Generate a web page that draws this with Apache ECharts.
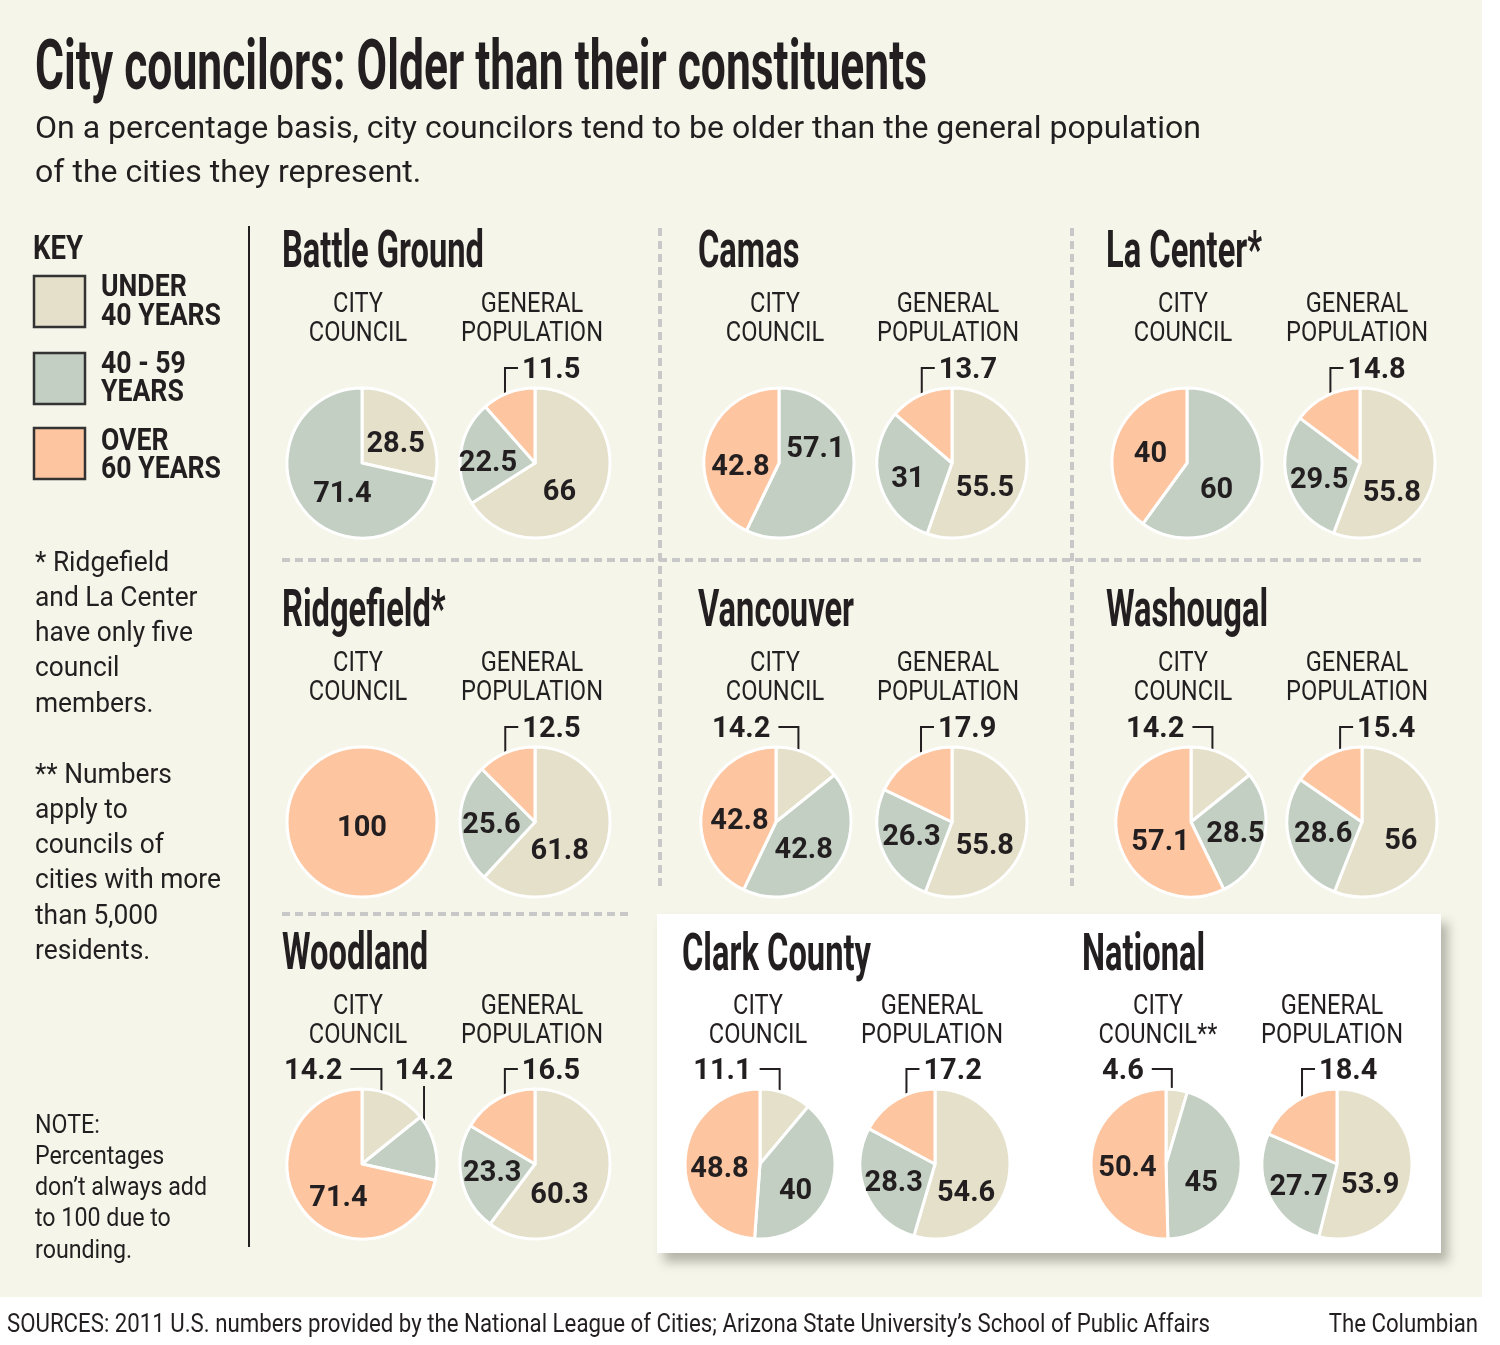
<!DOCTYPE html>
<html>
<head>
<meta charset="utf-8">
<script src="https://cdn.jsdelivr.net/npm/echarts@6/dist/echarts.min.js"></script>
<style>
html,body{margin:0;padding:0;background:#ffffff;}
#chart{width:1500px;height:1345px;}
</style>
</head>
<body>
<div id="chart"></div>
<script>
// ---------------- DATA ----------------
const titleText = 'City councilors: Older than their constituents';
const subtitleLines = ['On a percentage basis, city councilors tend to be older than the general population', 'of the cities they represent.'];
const groups = ['Battle Ground', 'Camas', 'La Center*', 'Ridgefield*', 'Vancouver', 'Washougal', 'Woodland', 'Clark County', 'National'];
const ageGroups = ['UNDER 40 YEARS', '40 - 59 YEARS', 'OVER 60 YEARS'];
const keyLines = [['UNDER', '40 YEARS'], ['40 - 59', 'YEARS'], ['OVER', '60 YEARS']];
const councilHeader = ['CITY', 'COUNCIL'];
const nationalCouncilHeader = ['CITY', 'COUNCIL**'];
const populationHeader = ['GENERAL', 'POPULATION'];
// City council shares (%)
const councilUnder40 = [28.5, 0, 0, 0, 14.2, 14.2, 14.2, 11.1, 4.6];
const council40to59 = [71.4, 57.1, 60, 0, 42.8, 28.5, 14.2, 40, 45];
const councilOver60 = [0, 42.8, 40, 100, 42.8, 57.1, 71.4, 48.8, 50.4];
// General population shares (%)
const popUnder40 = [66, 55.5, 55.8, 61.8, 55.8, 56, 60.3, 54.6, 53.9];
const pop40to59 = [22.5, 31, 29.5, 25.6, 26.3, 28.6, 23.3, 28.3, 27.7];
const popOver60 = [11.5, 13.7, 14.8, 12.5, 17.9, 15.4, 16.5, 17.2, 18.4];
const note1 = ['* Ridgefield', 'and La Center', 'have only five', 'council', 'members.'];
const note2 = ['** Numbers', 'apply to', 'councils of', 'cities with more', 'than 5,000', 'residents.'];
const note3 = ['NOTE:', 'Percentages', 'don\u2019t always add', 'to 100 due to', 'rounding.'];
const sourceText = 'SOURCES: 2011 U.S. numbers provided by the National League of Cities; Arizona State University\u2019s School of Public Affairs';
const creditText = 'The Columbian';

// ---------------- STYLE / LAYOUT ----------------
const INK = '#231f20';
const COLORS = ['#e4e0ca', '#c2cfc2', '#fdc6a1'];
const FF = 'Roboto, "DejaVu Sans", sans-serif';
const PIE_R = 75;
// per group: council centre x, population centre x, centre y
const pieLayout = [
  [362, 535, 463], [779, 952, 463], [1187, 1360, 463],
  [362, 535, 822], [776, 952, 822], [1191, 1362, 822],
  [362, 535, 1164], [760, 935, 1164], [1166, 1337, 1164]
];
const headerPos = [[282, 249], [698, 249], [1106, 249], [282, 608], [698, 608], [1106, 608], [282, 951], [682, 952], [1082, 952]];
const subHeaderPos = [
  [358, 532, 302], [775, 948, 302], [1183, 1357, 302],
  [358, 532, 661], [775, 948, 661], [1183, 1357, 661],
  [358, 532, 1004], [758, 932, 1004], [1158, 1332, 1004]
];
// external labels with leader lines: key group-kind-age (dx = shift of the vertical leader from the slice's edge point)
const extLabels = {
  '0-pop-2': {side: 'right', dx: -3.5}, '1-pop-2': {side: 'right', dx: 1}, '2-pop-2': {side: 'right', dx: 4},
  '3-pop-2': {side: 'right', dx: -1},
  '4-council-0': {side: 'left', dx: -10}, '4-pop-2': {side: 'right', dx: 9},
  '5-council-0': {side: 'left', dx: -11}, '5-pop-2': {side: 'right', dx: 13},
  '6-council-0': {side: 'left', dx: -13, rise: 51, len: 31}, '6-council-1': {side: 'up', dx: -11}, '6-pop-2': {side: 'right', dx: 7},
  '7-council-0': {side: 'left', dx: -6}, '7-pop-2': {side: 'right', dx: 10},
  '8-council-0': {side: 'left', dx: -5, rise: 32}, '8-pop-2': {side: 'right', dx: 6, rise: 42}
};
// nudges for inside labels [dx, dy]
const labelNudge = {
  '0-council-0': [2, 7], '0-council-1': [12, 6], '0-pop-0': [-11, 10], '0-pop-1': [-7, 6],
  '1-council-1': [-3, -22], '1-council-2': [1, 14], '1-pop-0': [-7, 19], '1-pop-1': [-5, 6],
  '2-council-1': [-9, 15], '2-council-2': [2, 4], '2-pop-0': [-8, 23], '2-pop-1': [-2, 6],
  '3-council-2': [0, 7], '3-pop-0': [-13, 15], '3-pop-1': [-3, 3],
  '4-council-1': [-4, 4], '4-council-2': [3, 9], '4-pop-0': [-7, 17], '4-pop-1': [-3, 1],
  '5-council-1': [5, 4], '5-council-2': [9, 12], '5-pop-0': [-1, 12], '5-pop-1': [0, 1],
  '6-council-2': [8, 9], '6-pop-0': [-14, 19], '6-pop-1': [-3, 2],
  '7-council-1': [-2, 13], '7-council-2': [0, 7], '7-pop-0': [-9, 24], '7-pop-1': [-4, 4],
  '8-council-1': [-5, 14], '8-council-2': [2, 4], '8-pop-0': [-7, 17], '8-pop-1': [-2, 6]
};

// ---------------- HELPERS ----------------
const mctx = document.createElement('canvas').getContext('2d');
function fontStr(weight, size) { return weight + ' ' + size + 'px ' + FF; }
function textW(str, weight, size) { mctx.font = fontStr(weight, size); return mctx.measureText(str).width; }
function fit(str, weight, size, target) { return target / textW(str, weight, size); }
// y = visual centre of capitals
function T(str, x, y, size, weight, sx, align, color) {
  return {
    type: 'text', x: x, y: y + size * 0.09, scaleX: sx, scaleY: 1, silent: true, z: 10,
    style: {
      text: str, font: fontStr(weight, size), fill: color || INK,
      align: align || 'left', verticalAlign: 'middle',
      textAlign: align || 'left', textVerticalAlign: 'middle'
    }
  };
}

// ---------------- GRAPHICS ----------------
const els = [];
els.push({type: 'rect', z: 0, silent: true, shape: {x: 0, y: 0, width: 1482, height: 1297}, style: {fill: '#f6f5ea'}});
els.push({type: 'rect', z: 1, silent: true, shape: {x: 657, y: 914, width: 784, height: 339},
  style: {fill: '#ffffff', shadowBlur: 10, shadowOffsetX: 7, shadowOffsetY: 9, shadowColor: 'rgba(60,60,50,0.35)'}});
// dashed separators
const dash = {stroke: '#c8c8c8', lineWidth: 4, lineDash: [8, 5]};
els.push({type: 'line', z: 1, silent: true, shape: {x1: 282, y1: 560, x2: 1425, y2: 560}, style: dash});
els.push({type: 'line', z: 1, silent: true, shape: {x1: 282, y1: 914, x2: 630, y2: 914}, style: dash});
els.push({type: 'line', z: 1, silent: true, shape: {x1: 660, y1: 228, x2: 660, y2: 890}, style: dash});
els.push({type: 'line', z: 1, silent: true, shape: {x1: 1072, y1: 228, x2: 1072, y2: 890}, style: dash});
// key divider
els.push({type: 'line', z: 1, silent: true, shape: {x1: 249, y1: 226, x2: 249, y2: 1247}, style: {stroke: INK, lineWidth: 2}});

// title & subtitle
els.push(T(titleText, 35, 64.5, 71, 'bold', fit(titleText, 'bold', 71, 892)));
const subS = fit(subtitleLines[0], 'normal', 31, 1166);
els.push(T(subtitleLines[0], 35, 127, 31, 'normal', subS));
els.push(T(subtitleLines[1], 35, 171, 31, 'normal', subS));

// key
els.push(T('KEY', 33, 247, 34, 'bold', fit('KEY', 'bold', 34, 50)));
const keyS = fit('40 YEARS', 'bold', 31, 120);
const keyY = [[285, 314], [362, 390], [439, 467]];
const keyBoxY = [276, 353, 428];
for (let i = 0; i < 3; i++) {
  els.push({type: 'rect', z: 5, silent: true, shape: {x: 34, y: keyBoxY[i], width: 51, height: 51},
    style: {fill: COLORS[i], stroke: '#333333', lineWidth: 2.5}});
  els.push(T(keyLines[i][0], 101, keyY[i][0], 31, 'bold', keyS));
  els.push(T(keyLines[i][1], 101, keyY[i][1], 31, 'bold', keyS));
}
// notes
const nS = fit('cities with more', 'normal', 28, 186);
note1.forEach((s, i) => els.push(T(s, 35, 561 + i * 35.3, 28, 'normal', nS)));
note2.forEach((s, i) => els.push(T(s, 35, 773 + i * 35.3, 28, 'normal', nS)));
const n3S = fit('don\u2019t always add', 'normal', 25, 172);
note3.forEach((s, i) => els.push(T(s, 35, 1124 + i * 31.3, 25, 'normal', n3S)));

// group headers and sub headers
const hS = fit('Battle Ground', 'bold', 52, 202);
const shS = fit('POPULATION', 'normal', 28, 142);
groups.forEach((g, i) => {
  els.push(T(g, headerPos[i][0], headerPos[i][1], 52, 'bold', hS));
  const sp = subHeaderPos[i];
  const ch = i === 8 ? nationalCouncilHeader : councilHeader;
  els.push(T(ch[0], sp[0], sp[2], 28, 'normal', shS, 'center'));
  els.push(T(ch[1], sp[0], sp[2] + 29, 28, 'normal', shS, 'center'));
  els.push(T(populationHeader[0], sp[1], sp[2], 28, 'normal', shS, 'center'));
  els.push(T(populationHeader[1], sp[1], sp[2] + 29, 28, 'normal', shS, 'center'));
});
// sources
const srcS = fit(sourceText, 'normal', 26, 1203);
els.push(T(sourceText, 7, 1323, 26, 'normal', srcS));
els.push(T(creditText, 1478, 1323, 26, 'normal', srcS, 'right'));

// ---------------- PIES ----------------
const seriesMeta = [];
const series = [];
const kinds = [
  {key: 'council', arrays: [councilUnder40, council40to59, councilOver60], col: 0},
  {key: 'pop', arrays: [popUnder40, pop40to59, popOver60], col: 1}
];
groups.forEach((g, gi) => {
  kinds.forEach(k => {
    const cx = pieLayout[gi][k.col], cy = pieLayout[gi][2];
    const data = [], ext = [], nudge = [];
    for (let a = 0; a < 3; a++) {
      const v = k.arrays[a][gi];
      if (!(v > 0)) continue;
      const key = gi + '-' + k.key + '-' + a;
      const spec = extLabels[key];
      const item = {name: ageGroups[a], value: v, itemStyle: {color: COLORS[a]}};
      if (spec) {
        item.label = {position: 'outside'};
        item.labelLine = {show: true};
      } else if (v >= 100) {
        item.label = {position: 'center'};
      }
      data.push(item);
      ext.push(spec || null);
      nudge.push(labelNudge[key] || [0, 3]);
    }
    seriesMeta.push({cx: cx, cy: cy, ext: ext, nudge: nudge});
    series.push({
      type: 'pie', name: g + ' ' + k.key, z: 3,
      center: [cx, cy], radius: PIE_R, startAngle: 90, clockwise: true,
      avoidLabelOverlap: false, animation: false, silent: true,
      emphasis: {disabled: true, scale: false},
      itemStyle: {borderColor: '#ffffff', borderWidth: 3},
      label: {show: true, position: 'inside', color: INK, fontFamily: FF, fontWeight: 'bold', fontSize: 29,
        formatter: p => String(p.value)},
      labelLine: {show: false, smooth: false, length: 10, length2: 10, lineStyle: {color: INK, width: 2}},
      labelLayout: function (p) {
        const m = seriesMeta[p.seriesIndex];
        const e = m.ext[p.dataIndex];
        if (!e) {
          const n = m.nudge[p.dataIndex];
          const r = p.labelRect;
          return {x: r.x + r.width / 2 + n[0], y: r.y + r.height / 2 + n[1], align: 'center', verticalAlign: 'middle'};
        }
        if (!p.labelLinePoints) return {};
        const a = p.labelLinePoints[0];
        const ly = m.cy - 95;
        const ty = ly + 3;
        const ys = ly + (e.rise || 38);
        const xv = a[0] + (e.dx || 0);
        if (e.side === 'right') {
          return {x: xv + 17, y: ty, align: 'left', verticalAlign: 'middle',
            labelLinePoints: [[xv, ys], [xv, ly], [xv + 13, ly]]};
        }
        if (e.side === 'left') {
          const len = e.len || 20;
          return {x: xv - len - 8, y: ty, align: 'right', verticalAlign: 'middle',
            labelLinePoints: [[xv, ys], [xv, ly], [xv - len, ly]]};
        }
        return {x: xv, y: ty, align: 'center', verticalAlign: 'middle',
          labelLinePoints: [[xv, m.cy - 16], [xv, m.cy - 46], [xv, ly + 17]]};
      },
      data: data
    });
  });
});

const chart = echarts.init(document.getElementById('chart'), null, {renderer: 'canvas'});
chart.setOption({
  backgroundColor: '#ffffff',
  animation: false,
  graphic: {elements: els},
  series: series
});
</script>
</body>
</html>
